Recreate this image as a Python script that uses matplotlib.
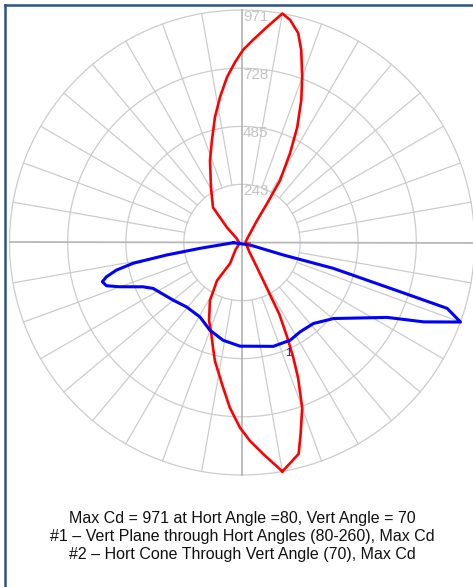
import numpy as np
import matplotlib
matplotlib.use("Agg")
import matplotlib.pyplot as plt
from matplotlib.lines import Line2D
from matplotlib import font_manager

# ---------------- data ----------------
ring_values = [243, 485, 728, 971]
max_cd = 971

# Curve #1 (red) - vertical plane, angle from nadir (deg, CCW), candela
red_angles = [10, 15, 17, 20, 22.5, 24, 25.5, 27.5, 28.5, 31, 38, 60, 67, 100, 135,
              145.7, 147.3, 148.5, 151.7, 154.4, 157.4, 160, 162.9, 165, 167.8, 170,
              173.4, 176.9, 179.7, 182.2, 185.2, 188.6, 192.2, 196.4, 201.3, 209.4,
              219.6, 225, 232, 270, 300, 318, 330.3, 326.7, 331.1, 337.1, 340.6,
              344.6, 347.1, 351.9, 355.8, 359.4, 362.3, 365.7, 370]
red_cd = [971, 914, 837, 735, 612, 527, 440, 337, 226, 122, 50, 22, 27, 15, 40,
          111, 194, 304, 423, 534, 644, 735, 841, 906, 951, 971,
          906, 847, 804, 754, 693, 614, 535, 445, 368, 264,
          190, 89, 30, 12, 15, 40, 101, 190, 277, 354, 391,
          456, 507, 596, 692, 774, 829, 887, 971]

# Curve #2 (blue) - horizontal cone
blue_angles = [271.3, 277.9, 279.4, 280.8, 282.4, 284.2, 285.7, 287.7, 289.9, 294.1,
               297.3, 309.9, 319.3, 330.5, 339.9, 349.1, 358.9, 376.8, 386.2, 393.0,
               401.4, 410.3, 422.7, 426.4, 430.0, 432.2, 432.7, 434.2, 433.2, 432.6, 631.3]
blue_cd = [36, 177, 319, 463, 537, 584, 606, 594, 543, 453,
           418, 375, 355, 357, 390, 416, 433, 453, 455, 445,
           451, 497, 682, 828, 971, 900, 693, 397, 181, 35, 36]

caption = ["Max Cd = 971 at Hort Angle =80, Vert Angle = 70",
           "#1 \u2013 Vert Plane through Hort Angles (80-260), Max Cd",
           "#2 \u2013 Hort Cone Through Vert Angle (70), Max Cd"]

# narrow font for ring labels if available
names = {f.name for f in font_manager.fontManager.ttflist}
label_family = "Liberation Sans Narrow" if "Liberation Sans Narrow" in names else "Liberation Sans"
label_size = 13 if label_family == "Liberation Sans Narrow" else 11

# ---------------- figure ----------------
W, H = 473, 587
fig = plt.figure(figsize=(W / 100, H / 100), dpi=100)
fig.patch.set_facecolor("white")

cx, cy, R = 242.0, 242.5, 232.5
ax = fig.add_axes([(cx - R) / W, (H - cy - R) / H, 2 * R / W, 2 * R / H],
                  projection="polar")
ax.set_theta_zero_location("S")
ax.set_theta_direction(1)
ax.set_ylim(0, max_cd)
ax.grid(False)
ax.set_xticks([])
ax.set_yticks([])
ax.spines["polar"].set_visible(False)
ax.patch.set_alpha(0)

grid_c = "#cccccc"
th = np.linspace(0, 2 * np.pi, 721)
for r in ring_values:
    ax.plot(th, np.full_like(th, r), color=grid_c, lw=0.9, clip_on=False, zorder=1)
for a in range(10, 360, 10):
    if a % 90:
        ax.plot([np.radians(a)] * 2, [ring_values[0], ring_values[-1]],
                color=grid_c, lw=0.9, clip_on=False, zorder=1)
ax.plot([0, np.pi], [max_cd, max_cd], color="#b8b8b8", lw=1.3, clip_on=False, zorder=1.5)
ax.plot([np.pi / 2, 3 * np.pi / 2], [max_cd, max_cd], color="#b8b8b8", lw=1.3,
        clip_on=False, zorder=1.5)

for r in ring_values:
    ax.annotate(str(r), xy=(np.pi, r), xytext=(1, -7), textcoords="offset pixels",
                ha="left", va="center", color="#c4c4c4", fontsize=label_size,
                family=label_family, zorder=2)

ax.plot(np.radians(red_angles), red_cd, color="#ff0000", lw=1.9, clip_on=False, zorder=3)
ax.plot(np.radians(blue_angles), blue_cd, color="#0000ff", lw=2.2, clip_on=False, zorder=3)

ax.text(np.radians(22.9), 500, "1", color="#0000ff", fontsize=8, ha="center", va="center",
        family="Liberation Sans", zorder=4)
ax.text(np.radians(66.8), 32, "2", color="#ff0000", fontsize=5.5, ha="center", va="center",
        family="Liberation Sans", zorder=4)

# caption
for line, yb in zip(caption, [522.7, 540.7, 559.3]):
    fig.text(242 / W, 1 - yb / H, line, ha="center", va="baseline",
             fontsize=11.5, family="Liberation Sans", color="#111111")

# frame (left and top borders)
bc = "#2d5286"
fig.add_artist(Line2D([5 / W, 5 / W], [0, 1 - 5 / H], transform=fig.transFigure,
                      color=bc, lw=1.8))
fig.add_artist(Line2D([5 / W, 1], [1 - 5 / H, 1 - 5 / H], transform=fig.transFigure,
                      color=bc, lw=1.8))

fig.savefig("out.png", dpi=100, facecolor="white")
